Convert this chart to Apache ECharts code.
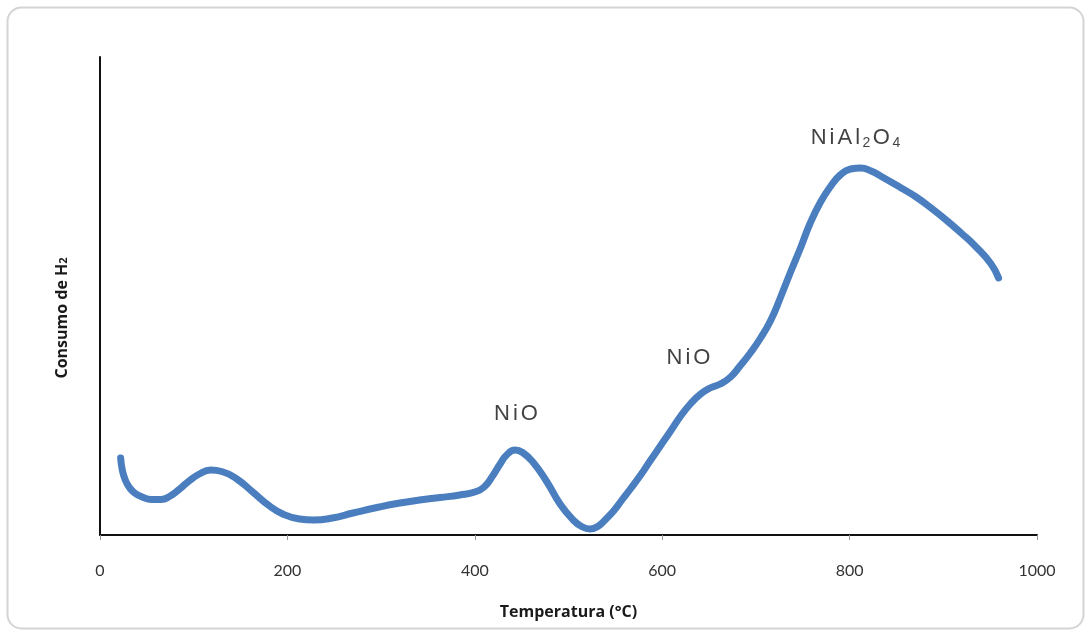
<!DOCTYPE html>
<html>
<head>
<meta charset="utf-8">
<script src="https://cdn.jsdelivr.net/npm/echarts@6/dist/echarts.min.js"></script>
<style>
html,body{margin:0;padding:0;background:#fff;}
#chart{width:1089px;height:632px;}
</style>
</head>
<body>
<div id="chart"></div>
<script>
// Temperature (°C) and H2 consumption (arbitrary units)
var temperature = [22,24,27,31,37,45,55,65,75,85,95,106,118,130,146,163,181,195,213,228,248,270,298,320,341,363,384,400,410,419,427,434,443,451,462,477,491,505,514,523,532,540,549,557,566,577,587,598,609,619,630,641,651,662,673,683,694,705,716,726,737,748,758,769,780,790,801,812,823,833,855,871,887,903,919,935,951,959];
var consumption = [77,64,55,48,42,38,35.5,35.5,39,46,54,61,65,63.5,56,43,29,21,16,15,17,22,28,32,35,37.5,40,43,48,59,71,80,85,82.5,73,53,31,15,8.5,6,9,16,25,35,46,60,74,89,104,118,131,141,147,151,158,169,182,197,215,237,263,288,312,333,349,360,366,367,364,359,347,338,327,315,302,288,271,257];
var xTicks = [0,200,400,600,800,1000];
var annoX = [444, 628, 806];
var annoY = [121, 177, 397];
var annoText = ['{a|N}{a|i}{a|O}', '{a|N}{a|i}{a|O}', '{a|N}{a|i}{a|A}{a|l}{s|2}{a|O}{s|4}'];

var lineData = temperature.map(function(t,i){return [t, consumption[i]];});
var annoData = annoX.map(function(x,i){return {value:[x, annoY[i]], label:{formatter: annoText[i]}};});

var chart = echarts.init(document.getElementById('chart'));
chart.setOption({
  animation:false,
  backgroundColor:'#fff',
  graphic:[
    {type:'rect', shape:{x:7.5,y:7.5,width:1076,height:621,r:14}, style:{fill:'none', stroke:'#d4d4d4', lineWidth:2}, z:-1},
    {type:'text', x:62, y:318, rotation:Math.PI/2,
     style:{text:'Consumo de H{s|2}', fontFamily:'Open Sans', fontWeight:'bold', fontSize:16, fill:'#1a1a1a', textAlign:'center', textVerticalAlign:'middle',
       rich:{s:{fontFamily:'Open Sans', fontWeight:'bold', fontSize:11, fill:'#1a1a1a', padding:[3,0,0,0]}}}}
  ],
  grid:{left:100, right:52, top:57, bottom:97},
  xAxis:{
    type:'value', min:xTicks[0], max:xTicks[xTicks.length-1], interval:200,
    name:'Temperatura (°C)', nameLocation:'middle', nameGap:69,
    nameTextStyle:{fontFamily:'Open Sans', fontWeight:'bold', fontSize:16, color:'#1a1a1a'},
    axisLine:{lineStyle:{color:'#111', width:2}},
    axisTick:{show:true, length:5, lineStyle:{color:'#999', width:1}},
    axisLabel:{fontFamily:'Lato', fontSize:16, color:'#333', margin:28, formatter:function(v){return String(v);}},
    splitLine:{show:false}
  },
  yAxis:{
    type:'value', min:0, max:478,
    axisLine:{show:true, lineStyle:{color:'#111', width:2}},
    axisTick:{show:false}, axisLabel:{show:false}, splitLine:{show:false}
  },
  series:[
    {type:'line', data:lineData, smooth:0.5, showSymbol:false, symbol:'none',
     lineStyle:{color:'#4a7ebf', width:7, cap:'round', join:'round'}},
    {type:'scatter', data:annoData, symbolSize:0, silent:true,
     label:{show:true, position:'inside', color:'#111',
       rich:{a:{fontFamily:'Liberation Sans', fontSize:22, color:'#111', padding:[0,1.5,0,1.5]},
             s:{fontFamily:'Liberation Sans', fontSize:14, color:'#111', padding:[11,1,0,1]}}}}
  ]
});
</script>
</body>
</html>
